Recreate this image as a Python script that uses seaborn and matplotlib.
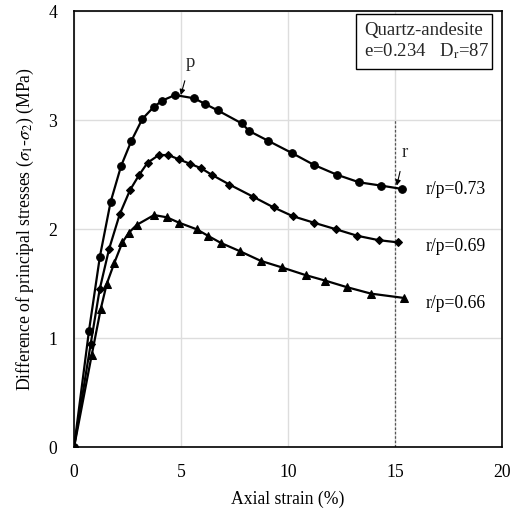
import numpy as np
import pandas as pd
import matplotlib
matplotlib.use("Agg")
import matplotlib.pyplot as plt
from matplotlib.patches import Rectangle
import seaborn as sns

# Stress-strain curves, Quartz-andesite, e=0.234, Dr=87
strain_circle = [0, 0.70, 1.21, 1.71, 2.20, 2.68, 3.19, 3.72, 4.13, 4.72, 5.62, 6.11,
                 6.71, 7.84, 8.19, 9.08, 10.17, 11.21, 12.28, 13.33, 14.35, 15.31]
stress_circle = [0, 1.07, 1.75, 2.25, 2.58, 2.81, 3.01, 3.12, 3.18, 3.23, 3.20, 3.15,
                 3.09, 2.97, 2.90, 2.81, 2.70, 2.59, 2.50, 2.43, 2.40, 2.37]

strain_diamond = [0, 0.78, 1.20, 1.64, 2.14, 2.62, 3.05, 3.44, 3.96, 4.41, 4.91, 5.42,
                  5.93, 6.43, 7.26, 8.35, 9.33, 10.22, 11.21, 12.24, 13.24, 14.24, 15.13]
stress_diamond = [0, 0.95, 1.45, 1.82, 2.14, 2.36, 2.50, 2.61, 2.68, 2.68, 2.64, 2.60,
                  2.56, 2.50, 2.41, 2.30, 2.20, 2.12, 2.06, 2.00, 1.94, 1.90, 1.88]

strain_triangle = [0, 0.83, 1.25, 1.53, 1.88, 2.26, 2.57, 2.93, 3.74, 4.33, 4.91, 5.73,
                   6.26, 6.86, 7.74, 8.73, 9.72, 10.82, 11.73, 12.74, 13.88, 15.43]
stress_triangle = [0, 0.85, 1.27, 1.50, 1.69, 1.88, 1.97, 2.04, 2.13, 2.11, 2.06, 2.00,
                   1.94, 1.875, 1.80, 1.71, 1.65, 1.58, 1.53, 1.47, 1.41, 1.37]

ratio_labels = ["r/p=0.73", "r/p=0.69", "r/p=0.66"]
ratio_label_y = [2.36, 1.84, 1.32]

x_ticks = [0, 5, 10, 15, 20]
y_ticks = [0, 1, 2, 3, 4]

sns.set_theme(style="white")
plt.rcParams["font.family"] = ["Liberation Serif", "DejaVu Serif"]
plt.rcParams["mathtext.fontset"] = "stix"

FS = 12.7

fig = plt.figure(figsize=(5.15, 5.08), dpi=100)
ax = fig.add_axes([0.1437, 0.1191, 0.8311, 0.8592])

series = [
    (strain_circle, stress_circle, "o", 5.5),
    (strain_diamond, stress_diamond, "D", 4.5),
    (strain_triangle, stress_triangle, "^", 6.0),
]
for xs, ys, mk, ms in series:
    df = pd.DataFrame({"strain": xs, "stress": ys})
    sns.lineplot(data=df, x="strain", y="stress", ax=ax, color="black",
                 linewidth=1.6, marker=mk, markersize=ms, markeredgecolor="black",
                 markerfacecolor="black", sort=False, zorder=3)

# residual strain marker line
ax.plot([15, 15], [0, 3.0], color="#555555", linestyle=(0, (2, 1.5)),
        linewidth=0.9, zorder=2)

ax.set_xlim(0, 20)
ax.set_ylim(0, 4)
ax.set_xticks(x_ticks)
ax.set_yticks(y_ticks)
ax.grid(True, color="#dddddd", linewidth=1.0)
ax.set_axisbelow(True)
for s in ax.spines.values():
    s.set_color("black")
    s.set_linewidth(1.2)
ax.tick_params(axis="both", length=0, pad=12, labelsize=FS, colors="black")

ax.set_xlabel("Axial strain (%)", fontsize=FS, color="black", labelpad=7)
ax.set_ylabel(r"Difference of principal stresses ($\sigma_1$-$\sigma_2$) (MPa)",
              fontsize=FS, color="black", labelpad=9)

# peak and residual annotations
ax.annotate("p", xy=(4.99, 3.23), xytext=(5.42, 3.53), fontsize=13.5,
            ha="center", va="center",
            arrowprops=dict(arrowstyle="-|>", color="black", lw=0.8,
                            mutation_scale=8, shrinkA=5, shrinkB=0))
ax.annotate("r", xy=(15.08, 2.40), xytext=(15.44, 2.70), fontsize=13.5,
            ha="center", va="center",
            arrowprops=dict(arrowstyle="-|>", color="black", lw=0.8,
                            mutation_scale=8, shrinkA=5, shrinkB=0))

for lab, yy in zip(ratio_labels, ratio_label_y):
    ax.text(16.45, yy, lab, fontsize=FS, ha="left", va="center", color="black")

# material info box
ax.add_patch(Rectangle((0.659, 0.867), 0.3176, 0.126, transform=ax.transAxes,
                       facecolor="white", edgecolor="black", linewidth=1.0,
                       zorder=5))
ax.text(0.6776, 0.955, "Quartz-andesite", transform=ax.transAxes,
        fontsize=13.5, ha="left", va="center", zorder=6)
ax.text(0.6776, 0.909, "e=0.234   D$_\\mathrm{r}$=87", transform=ax.transAxes,
        fontsize=13.5, ha="left", va="center", zorder=6)

fig.savefig("out.png", dpi=100)
